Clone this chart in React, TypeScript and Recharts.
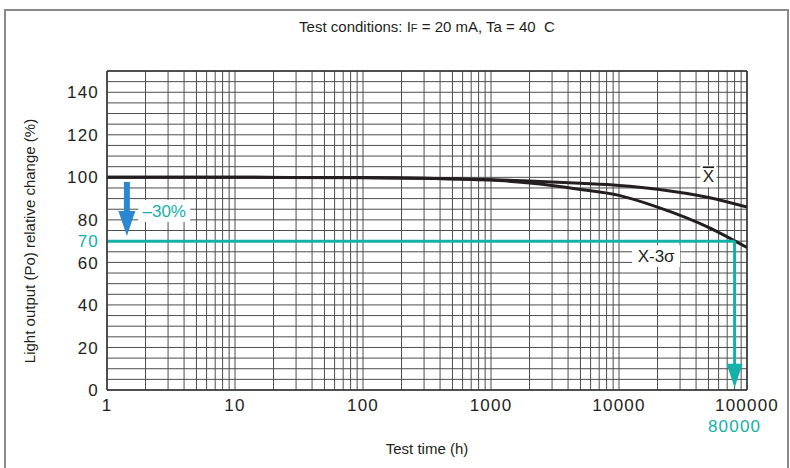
import React from "react";
import {
  LineChart,
  Line,
  XAxis,
  YAxis,
  ReferenceLine,
  ReferenceDot,
} from "recharts";

const hours = [1, 10, 100, 1000, 2000, 5000, 10000, 20000, 50000, 100000];
const meanValues = [100, 100, 99.9, 98.9, 98.3, 97.2, 96.2, 94.4, 90.5, 86];
const lowerValues = [100, 100, 99.8, 98.7, 97.3, 94.3, 91.5, 86, 76.5, 67];

const xTicks = [1, 10, 100, 1000, 10000, 100000];
const yTicks = [0, 20, 40, 60, 70, 80, 100, 120, 140];

const limitValue = 70;
const limitHours = 80000;

const data = hours.map((h, i) => ({
  h,
  mean: meanValues[i],
  lower: lowerValues[i],
}));

// log paper grid: 1..9 per decade
const xGrid: number[] = [];
for (let d = 1; d < 100000; d *= 10) {
  for (let m = 1; m < 10; m++) xGrid.push(d * m);
}
xGrid.push(100000);
const yGrid: number[] = [];
for (let v = 0; v <= 150; v += 5) yGrid.push(v);

const INK = "#231f20";
const CYAN = "#14b1a9";
const BLUE = "#2b87cf";
const FONT = "'Liberation Sans', Arial, sans-serif";

const YTick = (props: any) => {
  const { x, y, payload } = props;
  const hi = payload.value === limitValue;
  return (
    <text
      x={x}
      y={y}
      dy="0.36em"
      textAnchor="end"
      fontSize={17}
      letterSpacing={1.2}
      fontFamily={FONT}
      fill={hi ? CYAN : INK}
    >
      {payload.value}
    </text>
  );
};

const XTick = (props: any) => {
  const { x, y, payload } = props;
  return (
    <text
      x={x}
      y={y}
      dy="0.78em"
      textAnchor="middle"
      fontSize={17}
      letterSpacing={1.2}
      fontFamily={FONT}
      fill={INK}
    >
      {payload.value}
    </text>
  );
};

const boxed =
  (text: string, color: string, w: number, overline = false) =>
  (p: any) =>
    (
      <g>
        <rect x={p.cx - w / 2} y={p.cy - 11} width={w} height={22} fill="#fff" />
        <text
          x={p.cx}
          y={p.cy}
          dy="0.36em"
          textAnchor="middle"
          fontSize={17}
          fontFamily={FONT}
          fill={color}
          style={overline ? { textDecoration: "overline" } : undefined}
        >
          {text}
        </text>
      </g>
    );

const arrowHead = (color: string, w: number, len: number) => (p: any) =>
  (
    <polygon
      points={`${p.cx},${p.cy} ${p.cx - w / 2},${p.cy - len} ${p.cx + w / 2},${p.cy - len}`}
      fill={color}
    />
  );

export default function App() {
  return (
    <div
      style={{
        position: "absolute",
        left: 0,
        top: 0,
        width: 790,
        height: 468,
        background: "#fff",
        fontFamily: FONT,
      }}
    >
      <div
        style={{
          position: "absolute",
          left: 4,
          top: 9,
          width: 781,
          height: 470,
          border: "2px solid #8a8a8a",
        }}
      />
      <div
        style={{
          position: "absolute",
          left: 107,
          width: 640,
          top: 18,
          textAlign: "center",
          fontSize: 15,
          color: INK,
        }}
      >
        Test conditions: I<span style={{ fontSize: 11 }}>F</span> = 20 mA, Ta = 40&nbsp; C
      </div>
      <div
        style={{
          position: "absolute",
          left: 30 - 150,
          top: 241 - 10,
          width: 300,
          textAlign: "center",
          fontSize: 15,
          color: INK,
          transform: "rotate(-90deg)",
          lineHeight: "20px",
        }}
      >
        Light output (Po) relative change (%)
      </div>
      <div
        style={{
          position: "absolute",
          left: 107,
          width: 640,
          top: 440,
          textAlign: "center",
          fontSize: 15,
          color: INK,
        }}
      >
        Test time (h)
      </div>
      <div style={{ position: "absolute", left: 0, top: 0 }}>
        <LineChart
          width={790}
          height={468}
          data={data}
          margin={{ top: 71, right: 43, bottom: 48, left: 37 }}
        >
          <XAxis
            dataKey="h"
            type="number"
            scale="log"
            domain={[1, 100000]}
            ticks={xTicks}
            interval={0}
            allowDataOverflow
            height={30}
            tickLine={false}
            tickSize={0}
            tickMargin={8}
            tick={<XTick />}
            axisLine={{ stroke: "#333", strokeWidth: 1.5 }}
          />
          <YAxis
            type="number"
            domain={[0, 150]}
            ticks={yTicks}
            interval={0}
            width={70}
            tickLine={false}
            tickSize={0}
            tickMargin={8}
            tick={<YTick />}
            axisLine={{ stroke: "#333", strokeWidth: 1.5 }}
          />
          {yGrid.map((v) => (
            <ReferenceLine key={`gy${v}`} y={v} stroke="#4d4d4d" strokeWidth={1} />
          ))}
          {xGrid.map((v) => (
            <ReferenceLine key={`gx${v}`} x={v} stroke="#4d4d4d" strokeWidth={1} />
          ))}
          <ReferenceLine y={150} stroke="#333" strokeWidth={1.5} />
          <ReferenceLine x={100000} stroke="#333" strokeWidth={1.5} />

          <Line
            dataKey="mean"
            type="monotone"
            stroke={INK}
            strokeWidth={3}
            dot={false}
            isAnimationActive={false}
          />
          <Line
            dataKey="lower"
            type="monotone"
            stroke={INK}
            strokeWidth={3}
            dot={false}
            isAnimationActive={false}
          />

          {/* 30% drop limit */}
          <ReferenceLine
            segment={[
              { x: 1, y: limitValue },
              { x: limitHours, y: limitValue },
            ]}
            stroke={CYAN}
            strokeWidth={3}
          />
          <ReferenceLine
            segment={[
              { x: limitHours, y: limitValue },
              { x: limitHours, y: 10 },
            ]}
            stroke={CYAN}
            strokeWidth={3}
          />
          <ReferenceDot x={limitHours} y={1} r={0} shape={arrowHead(CYAN, 16, 24)} />
          <ReferenceDot
            x={limitHours}
            y={0}
            r={0}
            shape={(p: any) => (
              <text
                x={p.cx}
                y={p.cy + 42}
                textAnchor="middle"
                fontSize={17}
                letterSpacing={1.2}
                fontFamily={FONT}
                fill={CYAN}
              >
                {limitHours}
              </text>
            )}
          />

          <ReferenceLine
            segment={[
              { x: 1.43, y: 97.8 },
              { x: 1.43, y: 84 },
            ]}
            stroke={BLUE}
            strokeWidth={6}
          />
          <ReferenceDot x={1.43} y={72.4} r={0} shape={arrowHead(BLUE, 17, 25)} />
          <ReferenceDot x={2.8} y={84.2} r={0} shape={boxed("\u201330%", CYAN, 52)} />

          <ReferenceDot x={50000} y={100.5} r={0} shape={boxed("X", INK, 16, true)} />
          <ReferenceDot x={19500} y={63} r={0} shape={boxed("X-3\u03c3", INK, 48)} />
        </LineChart>
      </div>
    </div>
  );
}
